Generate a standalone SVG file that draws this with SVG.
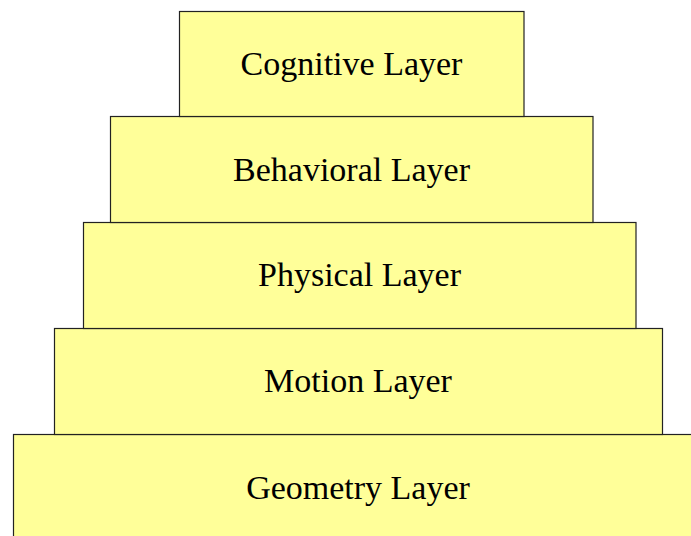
<svg xmlns="http://www.w3.org/2000/svg" width="691" height="536" viewBox="0 0 691 536">
<style>
.box{fill:#ffff99;stroke:#222;stroke-width:1.2}
.lbl{font-family:"Liberation Serif","Times New Roman",serif;font-size:34px;fill:#000;text-anchor:middle}
</style>
<rect width="691" height="536" fill="#fff"/>
<g id="geometry"><rect class="box" x="13.5" y="434.5" width="690" height="110"/><text class="lbl" x="358" y="499">Geometry Layer</text></g>
<g id="motion"><rect class="box" x="54.5" y="328.5" width="608" height="106"/><text class="lbl" x="358" y="392">Motion Layer</text></g>
<g id="physical"><rect class="box" x="83.5" y="222.5" width="552.5" height="106"/><text class="lbl" x="359.5" y="286">Physical Layer</text></g>
<g id="behavioral"><rect class="box" x="110.5" y="116.5" width="482.5" height="106"/><text class="lbl" x="351.5" y="181">Behavioral Layer</text></g>
<g id="cognitive"><rect class="box" x="179.5" y="11.5" width="344.5" height="105"/><text class="lbl" x="351.5" y="75">Cognitive Layer</text></g>
<g id="connectors"></g>
</svg>
